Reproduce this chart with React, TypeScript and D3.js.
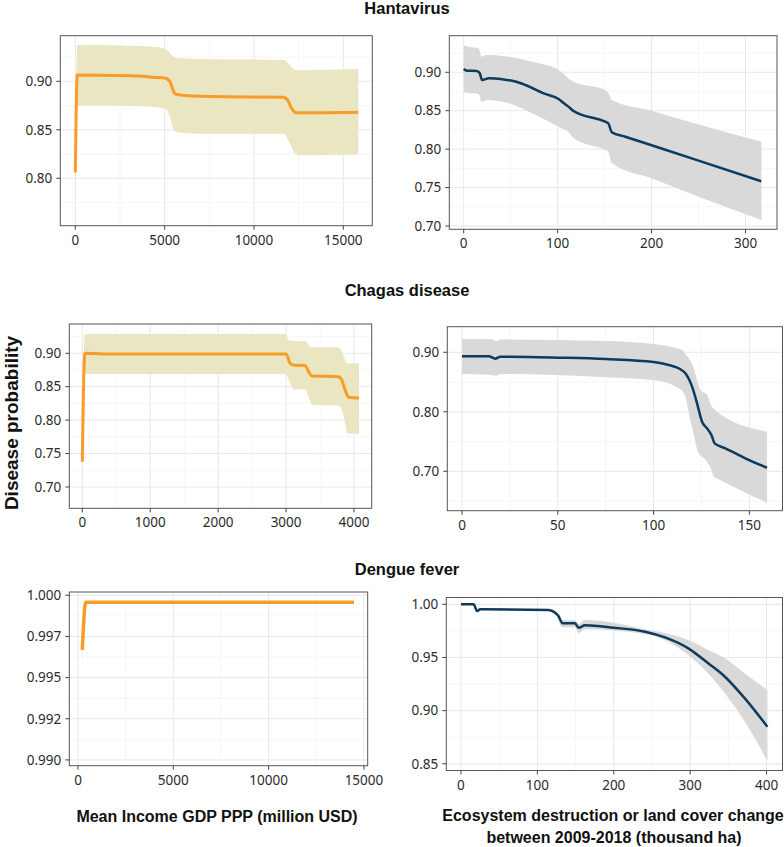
import React, { useEffect, useRef } from 'react';
import * as d3 from 'd3';

// ---- values ----

// Hantavirus ~ income
const hantaIncX = [0, 110, 2000, 3500, 4500, 5000, 5300, 5450, 5580, 6000, 7500, 11640, 11900, 12110, 12390, 13500, 15840];
const hantaIncY = [0.806, 0.9065, 0.906, 0.9055, 0.904, 0.9035, 0.8996, 0.892, 0.887, 0.8855, 0.8842, 0.8835, 0.880, 0.872, 0.8676, 0.8675, 0.868];
const hantaIncBandX = [0, 110, 3500, 5000, 5300, 5500, 5700, 7000, 11700, 12000, 12300, 12600, 15840];
const hantaIncHi = [0.836, 0.9374, 0.9364, 0.934, 0.929, 0.9255, 0.924, 0.923, 0.922, 0.9168, 0.9117, 0.9115, 0.9127];
const hantaIncLo = [0.776, 0.8749, 0.8746, 0.872, 0.8635, 0.8498, 0.8474, 0.846, 0.8457, 0.836, 0.8258, 0.8237, 0.8244];

// Hantavirus ~ land cover change
const hantaEcoX = [0, 3.5, 14, 17, 19.6, 26.8, 41, 55, 65.6, 86.9, 101, 106, 111.5, 117, 150.6, 154, 157.7, 172, 200, 250, 316.7];
const hantaEcoY = [0.9043, 0.902, 0.9017, 0.899, 0.890, 0.8921, 0.8908, 0.888, 0.8835, 0.8718, 0.8653, 0.8604, 0.8553, 0.8496, 0.8357, 0.8336, 0.8219, 0.8162, 0.805, 0.785, 0.7582];
const hantaEcoBandX = [0, 5, 16, 18.8, 25, 48, 73, 101, 106, 111.5, 117, 150.6, 154, 157.7, 200, 250, 317];
const hantaEcoHi = [0.9355, 0.9333, 0.9312, 0.9203, 0.9225, 0.9203, 0.9138, 0.903, 0.8987, 0.892, 0.8878, 0.877, 0.873, 0.864, 0.850, 0.832, 0.8097];
const hantaEcoLo = [0.8748, 0.873, 0.8718, 0.8617, 0.864, 0.8597, 0.8467, 0.8292, 0.826, 0.8227, 0.8141, 0.7989, 0.7967, 0.7816, 0.762, 0.738, 0.7078];

// Chagas ~ income
const chagasIncX = [0, 37, 300, 3000, 3060, 3110, 3280, 3330, 3380, 3770, 3820, 3870, 3920, 4074];
const chagasIncY = [0.7378, 0.900, 0.899, 0.899, 0.885, 0.8825, 0.8818, 0.8725, 0.866, 0.865, 0.860, 0.845, 0.8342, 0.833];
const chagasIncBandX = [0, 37, 3000, 3030, 3060, 3110, 3280, 3350, 3380, 3770, 3850, 3870, 3900, 4074];
const chagasIncHi = [0.78, 0.9289, 0.9289, 0.920, 0.919, 0.9185, 0.918, 0.9099, 0.909, 0.909, 0.895, 0.89, 0.885, 0.885];
const chagasIncLo = [0.70, 0.869, 0.869, 0.862, 0.855, 0.846, 0.846, 0.830, 0.8227, 0.822, 0.805, 0.7953, 0.780, 0.7795];

// Chagas ~ land cover change
const chagasEcoX = [0, 13.9, 17.4, 20, 50.5, 74.9, 100.1, 107.9, 114, 116.6, 120.1, 122.7, 125.3, 127.9, 130.2, 131.9, 137.5, 147.9, 159.2];
const chagasEcoY = [0.8933, 0.8933, 0.8893, 0.8927, 0.891, 0.8887, 0.8837, 0.8786, 0.8714, 0.8647, 0.8422, 0.8143, 0.7834, 0.7723, 0.761, 0.747, 0.7387, 0.7219, 0.706];
const chagasEcoBandX = [0, 15.7, 17.4, 18.3, 20, 74.9, 100, 113, 115, 116.6, 119.2, 120, 123.5, 124.4, 127.9, 130.5, 131.4, 133.1, 159.2];
const chagasEcoHi = [0.9224, 0.9218, 0.919, 0.9185, 0.9213, 0.919, 0.914, 0.906, 0.904, 0.897, 0.886, 0.8815, 0.845, 0.8366, 0.8282, 0.8086, 0.805, 0.800, 0.7666];
const chagasEcoLo = [0.8635, 0.862, 0.8607, 0.861, 0.8635, 0.858, 0.8534, 0.8395, 0.835, 0.8254, 0.7862, 0.776, 0.7303, 0.727, 0.7162, 0.700, 0.6909, 0.688, 0.6472];

// Dengue ~ income
const dengueIncX = [225, 404, 14477];
const dengueIncY = [0.99668, 0.99958, 0.99958];
const dengueIncBandX = [225, 404, 14477];
const dengueIncHi = [0.9976, 0.99966, 0.99966];
const dengueIncLo = [0.99547, 0.9995, 0.9995];

// Dengue ~ land cover change
const dengueEcoX = [0, 16.6, 21, 25.3, 114.6, 123.3, 127.6, 132.9, 149.4, 153.8, 162.5, 199.5, 240.9, 267, 297.6, 323.7, 345.5, 371.6, 401.2];
const dengueEcoY = [1.0, 1.0, 0.9937, 0.9953, 0.9946, 0.9921, 0.989, 0.9821, 0.9821, 0.978, 0.9802, 0.978, 0.9742, 0.9689, 0.9586, 0.9445, 0.9319, 0.9115, 0.8848];
const dengueEcoBandX = [0, 16.6, 21, 25.3, 114.6, 123.3, 132.9, 149.4, 153.8, 162.5, 240.9, 297.6, 323.7, 345.5, 371.6, 401.2];
const dengueEcoHi = [1.0005, 1.0005, 0.9945, 0.996, 0.9952, 0.993, 0.9852, 0.9852, 0.9815, 0.9852, 0.9765, 0.9664, 0.957, 0.9492, 0.935, 0.9194];
const dengueEcoLo = [0.9995, 0.9995, 0.993, 0.9946, 0.994, 0.991, 0.9784, 0.9784, 0.9727, 0.9765, 0.972, 0.9523, 0.935, 0.9163, 0.8895, 0.8528];

// ticks
const incTicks15k = [0, 5000, 10000, 15000];
const incMinor15k = [2500, 7500, 12500];
const incTicks4k = [0, 1000, 2000, 3000, 4000];
const incMinor4k = [500, 1500, 2500, 3500];
const ecoTicks300 = [0, 100, 200, 300];
const ecoMinor300 = [50, 150, 250];
const ecoTicks150 = [0, 50, 100, 150];
const ecoMinor150 = [25, 75, 125];
const ecoTicks400 = [0, 100, 200, 300, 400];
const ecoMinor400 = [50, 150, 250, 350];
const probTicksA = [0.80, 0.85, 0.90];
const probMinorA = [0.775, 0.825, 0.875, 0.925];
const probTicksB = [0.70, 0.75, 0.80, 0.85, 0.90];
const probMinorB = [0.725, 0.775, 0.825, 0.875, 0.925];
const probTicksC = [0.70, 0.80, 0.90];
const probMinorC = [0.65, 0.75, 0.85];
const probTicksD = [0.990, 0.9925, 0.995, 0.9975, 1.0];
const probLabelsD = ['0.990', '0.992', '0.995', '0.997', '1.000'];
const probMinorD = [0.99125, 0.99375, 0.99625, 0.99875];
const probTicksE = [0.85, 0.90, 0.95, 1.00];
const probMinorE = [0.875, 0.925, 0.975];

const titles = ['Hantavirus', 'Chagas disease', 'Dengue fever'];

const ORANGE = '#F99C27';
const KHAKI = '#EAE6C1';
const NAVY = '#0F3A5B';
const GREY = '#D9D9D9';

const panels = [
    { box: [60.3, 35.7, 372.3, 225.7], xd: [-840, 16623], yd: [0.7511, 0.947],
      lx: hantaIncX, ly: hantaIncY, bx: hantaIncBandX, lo: hantaIncLo, hi: hantaIncHi,
      xt: incTicks15k, xm: incMinor15k, yt: probTicksA, ym: probMinorA, fmt: '.2f', col: ORANGE, fill: KHAKI, lw: 3 },
    { box: [449.3, 35.7, 777, 229.3], xd: [-15.3, 333.5], yd: [0.6957, 0.9476],
      lx: hantaEcoX, ly: hantaEcoY, bx: hantaEcoBandX, lo: hantaEcoLo, hi: hantaEcoHi,
      xt: ecoTicks300, xm: ecoMinor300, yt: probTicksB, ym: probMinorB, fmt: '.2f', col: NAVY, fill: GREY, lw: 2.5 },
    { box: [69.3, 324, 371.7, 508.3], xd: [-191.4, 4260.6], yd: [0.6681, 0.9438],
      lx: chagasIncX, ly: chagasIncY, bx: chagasIncBandX, lo: chagasIncLo, hi: chagasIncHi,
      xt: incTicks4k, xm: incMinor4k, yt: probTicksB, ym: probMinorB, fmt: '.2f', col: ORANGE, fill: KHAKI, lw: 3 },
    { box: [447.3, 326.7, 782.5, 510.7], xd: [-7.67, 167.3], yd: [0.6338, 0.943],
      lx: chagasEcoX, ly: chagasEcoY, bx: chagasEcoBandX, lo: chagasEcoLo, hi: chagasEcoHi,
      xt: ecoTicks150, xm: ecoMinor150, yt: probTicksC, ym: probMinorC, fmt: '.2f', col: NAVY, fill: GREY, lw: 2.5 },
    { box: [69.3, 592, 367.7, 765.7], xd: [-456, 15197], yd: [0.98965, 1.0002],
      lx: dengueIncX, ly: dengueIncY, bx: dengueIncBandX, lo: dengueIncLo, hi: dengueIncHi,
      xt: incTicks15k, xm: incMinor15k, yt: probTicksD, ym: probMinorD, labels: probLabelsD, col: ORANGE, fill: KHAKI, lw: 3.5 },
    { box: [446.3, 597.5, 782.5, 770.5], xd: [-19.2, 420.9], yd: [0.8437, 1.0064],
      lx: dengueEcoX, ly: dengueEcoY, bx: dengueEcoBandX, lo: dengueEcoLo, hi: dengueEcoHi,
      xt: ecoTicks400, xm: ecoMinor400, yt: probTicksE, ym: probMinorE, fmt: '.2f', col: NAVY, fill: GREY, lw: 2.5 },
];

const TICK_FONT = '"Noto Sans", "Open Sans", sans-serif';
const BOLD_FONT = '"Liberation Sans", Arial, sans-serif';

export default function App() {
    const ref = useRef<SVGSVGElement>(null);

    useEffect(() => {
        const svg = d3.select(ref.current);
        svg.selectAll('*').remove();

        svg.append('rect').attr('width', 784).attr('height', 847).attr('fill', '#fff');

        panels.forEach((p: any) => {
            const [l, t, r, b] = p.box;
            const x = d3.scaleLinear().domain(p.xd).range([l, r]);
            const y = d3.scaleLinear().domain(p.yd).range([b, t]);
            const g = svg.append('g');

            // grid
            g.selectAll('.vmin').data(p.xm).enter().append('line')
                .attr('x1', (d: number) => x(d)).attr('x2', (d: number) => x(d))
                .attr('y1', t).attr('y2', b).attr('stroke', '#f2f2f2').attr('stroke-width', 0.7);
            g.selectAll('.hmin').data(p.ym).enter().append('line')
                .attr('y1', (d: number) => y(d)).attr('y2', (d: number) => y(d))
                .attr('x1', l).attr('x2', r).attr('stroke', '#f2f2f2').attr('stroke-width', 0.7);
            g.selectAll('.vmaj').data(p.xt).enter().append('line')
                .attr('x1', (d: number) => x(d)).attr('x2', (d: number) => x(d))
                .attr('y1', t).attr('y2', b).attr('stroke', '#e8e8e8').attr('stroke-width', 1);
            g.selectAll('.hmaj').data(p.yt).enter().append('line')
                .attr('y1', (d: number) => y(d)).attr('y2', (d: number) => y(d))
                .attr('x1', l).attr('x2', r).attr('stroke', '#e8e8e8').attr('stroke-width', 1);

            // ribbon
            const band = p.bx.map((v: number, i: number) => ({ x: v, lo: p.lo[i], hi: p.hi[i] }));
            const area = d3.area<any>()
                .x(d => x(d.x)).y0(d => y(d.lo)).y1(d => y(d.hi))
                .curve(d3.curveMonotoneX);
            g.append('path').attr('d', area(band)).attr('fill', p.fill);

            // line
            const pts = p.lx.map((v: number, i: number) => [v, p.ly[i]]);
            const line = d3.line<any>().x(d => x(d[0])).y(d => y(d[1])).curve(d3.curveMonotoneX);
            g.append('path').attr('d', line(pts)).attr('fill', 'none')
                .attr('stroke', p.col).attr('stroke-width', p.lw).attr('stroke-linejoin', 'round');

            // border
            g.append('rect').attr('x', l).attr('y', t).attr('width', r - l).attr('height', b - t)
                .attr('fill', 'none').attr('stroke', '#555').attr('stroke-width', 1);

            // x axis
            g.selectAll('.xt').data(p.xt).enter().append('line')
                .attr('x1', (d: number) => x(d)).attr('x2', (d: number) => x(d))
                .attr('y1', b).attr('y2', b + 4).attr('stroke', '#444');
            g.selectAll('.xl').data(p.xt).enter().append('text')
                .attr('x', (d: number) => x(d)).attr('y', b + 19)
                .attr('text-anchor', 'middle').attr('font-family', TICK_FONT)
                .attr('font-size', 13.5).attr('fill', '#2b2b2b')
                .text((d: number) => String(d));

            // y axis
            const yfmt = p.labels ? ((d: number, i: number) => p.labels[i]) : ((d: number) => d3.format(p.fmt)(d));
            g.selectAll('.yt').data(p.yt).enter().append('line')
                .attr('x1', l - 4).attr('x2', l)
                .attr('y1', (d: number) => y(d)).attr('y2', (d: number) => y(d)).attr('stroke', '#444');
            g.selectAll('.yl').data(p.yt).enter().append('text')
                .attr('x', l - 8).attr('y', (d: number) => y(d)).attr('dy', '0.35em')
                .attr('text-anchor', 'end').attr('font-family', TICK_FONT)
                .attr('font-size', 13.5).attr('fill', '#2b2b2b')
                .text(yfmt);
        });

        // row titles
        const titleY = [14, 296, 575];
        titles.forEach((s, i) => {
            svg.append('text').attr('x', 407).attr('y', titleY[i])
                .attr('text-anchor', 'middle').attr('font-family', BOLD_FONT)
                .attr('font-weight', 'bold').attr('font-size', 16.5).attr('fill', '#111')
                .text(s);
        });

        // y label
        svg.append('text').attr('transform', 'translate(18,423) rotate(-90)')
            .attr('text-anchor', 'middle').attr('font-family', BOLD_FONT)
            .attr('font-weight', 'bold').attr('font-size', 19).attr('fill', '#111')
            .text('Disease probability');

        // x labels
        svg.append('text').attr('x', 217).attr('y', 822)
            .attr('text-anchor', 'middle').attr('font-family', BOLD_FONT)
            .attr('font-weight', 'bold').attr('font-size', 16).attr('fill', '#111')
            .text('Mean Income GDP PPP (million USD)');
        svg.append('text').attr('x', 613).attr('y', 821)
            .attr('text-anchor', 'middle').attr('font-family', BOLD_FONT)
            .attr('font-weight', 'bold').attr('font-size', 16).attr('fill', '#111')
            .text('Ecosystem destruction or land cover change');
        svg.append('text').attr('x', 614).attr('y', 843)
            .attr('text-anchor', 'middle').attr('font-family', BOLD_FONT)
            .attr('font-weight', 'bold').attr('font-size', 16).attr('fill', '#111')
            .text('between 2009-2018 (thousand ha)');
    }, []);

    return (
        <svg ref={ref} width={784} height={847}
             style={{ position: 'absolute', left: 0, top: 0 }} />
    );
}
